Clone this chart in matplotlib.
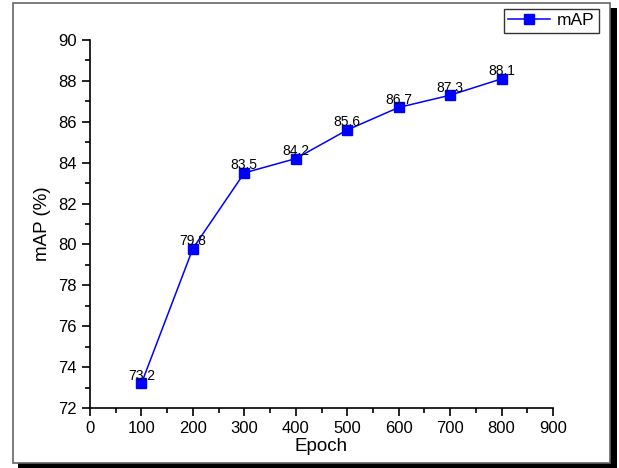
import matplotlib
matplotlib.use("Agg")
import matplotlib.pyplot as plt
from matplotlib.patches import Rectangle

epochs = [100, 200, 300, 400, 500, 600, 700, 800]
map_values = [73.2, 79.8, 83.5, 84.2, 85.6, 86.7, 87.3, 88.1]
x_ticks = [0, 100, 200, 300, 400, 500, 600, 700, 800, 900]
y_ticks = [72, 74, 76, 78, 80, 82, 84, 86, 88, 90]

plt.rcParams['font.family'] = ['Liberation Sans', 'DejaVu Sans']
W, H = 619, 468
fig = plt.figure(figsize=(W/100, H/100), dpi=100)

# Origin-style frame with shadow
def fr(x0, y0, x1, y1):
    return (x0/W, 1 - y1/H), (x1-x0)/W, (y1-y0)/H
xy, w, h = fr(18, 8, 617, 468)
fig.patches.append(Rectangle(xy, w, h, transform=fig.transFigure, facecolor='black', edgecolor='none', zorder=0))
xy, w, h = fr(13, 3, 610, 463)
fig.patches.append(Rectangle(xy, w, h, transform=fig.transFigure, facecolor='white', edgecolor='#666666', linewidth=1.2, zorder=1))

ax = fig.add_axes([90/W, 1-408/H, (553-90)/W, (408-40)/H])
ax.set_zorder(2)
ax.patch.set_alpha(0)
ax.plot(epochs, map_values, color='#0000ff', linewidth=1.1, marker='s', markersize=6.5, label='mAP')
for x, y in zip(epochs, map_values):
    ax.text(x, y + 0.17, f"{y}", ha='center', va='baseline', fontsize=10, color='black')

ax.set_xlim(0, 900)
ax.set_ylim(72, 90)
ax.set_xticks(x_ticks)
ax.set_yticks(y_ticks)
ax.set_xticks([50 + 100*i for i in range(9)], minor=True)
ax.set_yticks([73 + 2*i for i in range(9)], minor=True)
ax.spines['top'].set_visible(False)
ax.spines['right'].set_visible(False)
for s in ['left', 'bottom']:
    ax.spines[s].set_linewidth(1.2)
ax.tick_params(which='major', direction='out', length=6, width=1.2, labelsize=12)
ax.tick_params(which='minor', direction='out', length=3.5, width=1.2)
ax.set_xlabel('Epoch', fontsize=13.5, labelpad=1)
ax.set_ylabel('mAP (%)', fontsize=13.5, labelpad=5)

leg = ax.legend(loc='upper right', bbox_to_anchor=(599/W, 1-9/H), bbox_transform=fig.transFigure,
                fontsize=12.5, frameon=True, fancybox=False, edgecolor='black',
                handlelength=2.4, borderpad=0.25, handletextpad=0.4, borderaxespad=0)
leg.get_frame().set_linewidth(1.0)

fig.savefig('out.png', dpi=100)
